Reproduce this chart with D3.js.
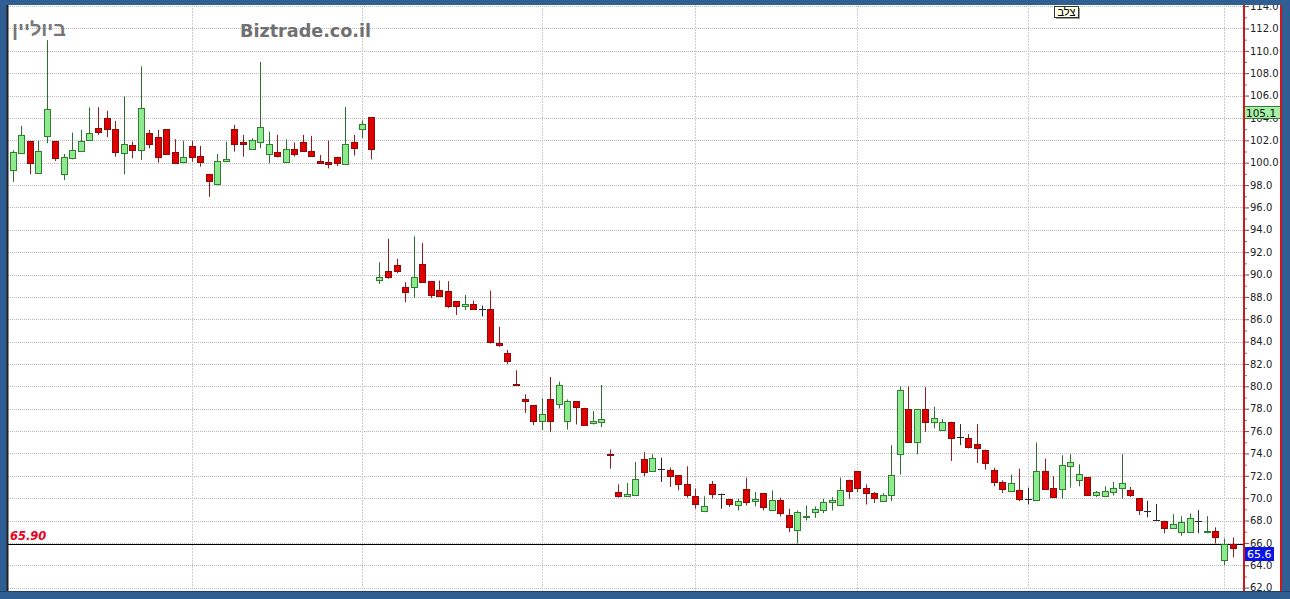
<!DOCTYPE html>
<html><head><meta charset="utf-8">
<script src="https://cdn.jsdelivr.net/npm/d3@7"></script>
<style>html,body{margin:0;padding:0;background:#fff;overflow:hidden}</style>
</head><body>
<svg id="c" width="1290" height="599"></svg>
<script>
// ---- data (o,h,l,c per trading day) ----
const openV = [99.40,100.90,101.95,99.04,102.43,101.95,98.95,100.39,101.05,102.04,103.08,103.98,102.99,100.84,101.59,101.14,102.63,102.28,102.99,100.99,100.00,101.50,100.60,98.95,98.14,100.15,102.99,101.89,101.23,101.80,100.78,100.99,100.09,101.20,101.89,101.08,100.18,100.09,100.54,99.85,101.89,102.99,104.07,
89.52,90.30,90.87,88.92,88.92,90.96,89.40,88.62,88.50,87.60,87.16,87.37,86.92,86.92,83.92,82.96,80.24,78.83,78.32,76.89,78.83,78.38,76.89,78.68,78.08,76.68,76.74,
73.93,70.55,70.16,70.34,73.54,72.44,72.59,72.56,72.08,71.30,70.19,68.84,71.30,70.34,69.95,69.41,70.85,69.74,70.46,68.90,69.80,68.54,67.11,68.40,68.75,68.90,69.65,69.35,71.66,72.41,70.94,70.46,69.71,70.28,
73.93,77.97,74.98,77.97,76.78,76.09,76.84,75.43,75.34,74.83,74.35,72.56,71.45,70.61,70.70,69.95,69.89,72.44,70.94,70.76,72.85,71.60,71.90,70.31,70.19,70.55,70.94,70.70,
69.98,68.87,68.05,67.99,67.29,66.99,66.99,67.99,67.05,67.05,64.46,65.89];
const highV = [101.10,103.29,101.95,101.95,110.96,101.95,100.78,102.69,102.93,104.94,104.97,104.64,103.74,105.93,101.89,108.62,102.93,102.93,102.99,102.10,101.98,101.98,101.50,98.95,100.78,101.89,103.38,102.49,102.19,109.01,102.78,102.49,102.10,101.80,102.49,102.40,100.69,101.98,100.54,104.97,102.49,103.77,104.07,
91.11,93.20,91.41,89.31,93.41,92.81,89.40,89.46,89.40,87.60,88.17,87.66,87.22,88.56,85.33,83.26,81.44,79.28,78.32,78.92,80.84,80.42,78.83,78.68,78.08,77.78,80.12,
74.35,71.24,71.36,73.24,74.14,73.93,73.63,72.73,72.08,72.85,70.85,70.16,71.54,70.40,69.95,69.95,71.84,70.55,70.46,70.70,70.04,69.05,68.90,69.35,69.26,69.95,70.10,71.84,71.66,72.41,71.24,70.55,70.46,74.74,
79.98,79.98,77.97,79.92,78.18,77.08,76.84,76.63,75.73,76.63,74.35,72.73,71.60,72.11,72.64,70.94,74.98,73.54,71.96,73.84,73.93,73.03,71.90,70.64,71.06,71.45,73.93,71.00,
69.98,69.77,69.47,67.99,68.57,68.39,68.63,68.93,68.39,67.39,66.40,66.49];
const lowV = [98.29,100.84,98.95,99.00,101.74,100.15,98.44,100.30,100.99,101.98,102.49,102.28,100.54,98.95,100.39,100.24,101.29,100.00,100.78,100.00,99.94,100.09,99.64,96.95,97.99,100.09,100.99,100.54,101.14,101.29,99.94,100.48,100.00,100.54,100.99,100.54,99.94,99.49,99.70,99.79,100.63,102.19,100.30,
89.16,89.61,90.12,87.51,87.90,89.37,87.90,88.11,87.01,86.38,86.83,86.92,86.26,83.83,83.53,81.98,80.03,77.63,76.53,76.08,75.90,78.02,76.14,76.59,76.59,76.59,76.35,
72.64,70.04,70.10,70.34,71.96,72.44,71.45,71.00,70.70,70.04,69.05,68.75,69.95,69.05,69.20,68.90,69.35,69.26,68.90,68.84,68.36,66.96,65.95,68.00,68.24,68.66,68.90,69.35,69.95,70.55,69.44,69.56,69.65,69.74,
72.11,74.98,73.93,75.94,76.24,76.09,73.33,74.74,74.44,73.15,72.56,71.06,70.46,70.61,69.74,69.44,69.89,70.85,70.04,69.95,70.94,71.06,70.31,70.10,70.10,70.25,69.95,70.10,
68.49,68.29,67.99,66.86,67.29,66.64,66.93,66.86,66.86,65.95,64.01,64.70];
const closeV = [100.99,102.49,100.00,101.05,104.82,100.39,100.48,101.14,101.95,102.63,102.69,102.99,100.90,101.65,101.14,104.88,101.65,100.48,100.78,100.00,100.48,100.54,100.09,98.35,100.18,100.30,101.68,101.74,102.04,103.17,101.65,100.63,101.23,100.75,101.08,100.63,100.03,99.94,100.00,101.65,101.35,103.44,101.20,
89.76,89.76,90.30,88.47,89.82,89.37,88.11,88.11,87.13,87.16,87.37,86.92,86.92,84.01,83.77,82.22,80.12,78.68,76.89,77.49,76.89,80.09,78.68,78.17,76.59,76.89,77.04,
73.81,70.16,70.34,71.75,72.35,73.63,72.59,72.05,71.24,70.31,69.50,69.29,70.40,70.34,69.50,69.74,69.71,69.95,69.20,69.80,68.60,67.47,68.75,68.45,68.99,69.65,69.86,70.70,70.70,70.85,70.46,70.04,70.25,72.08,
79.68,74.98,77.97,76.78,77.14,76.84,75.43,75.43,74.50,74.50,73.15,71.45,70.85,71.36,69.86,69.95,72.44,70.85,70.10,72.94,73.24,72.14,70.31,70.55,70.61,70.94,71.36,70.25,
68.87,68.87,68.05,67.39,67.68,67.89,68.20,67.99,67.10,66.55,65.89,65.56];
const monthStartIdx = [21,41,62,80,99,119,142];
const yTicksMajor = [62,64,66,68,70,72,74,76,78,80,82,84,86,88,90,92,94,96,98,100,102,104,106,108,110,112,114];
const yTicksMinor = [63,65,67,69,71,73,75,77,79,81,83,85,87,89,91,93,95,97,99,101,103,105,107,109,111,113];
const refLine = 65.90;
const tagHigh = 105.1;
const tagLast = 65.6;
const titleHeb = "ביוליין";
const titleSite = "Biztrade.co.il";
const flagLabel = "צלב";

// ---- layout ----
const W = 1290, H = 599;
const L = 8, R = 1243, T = 5, B = 591;
const svg = d3.select("#c");
const days = d3.range(openV.length);
const x = d3.scalePoint().domain(days).range([12.7, 1232.5]);
const y = d3.scaleLinear().domain([61.7, 114.1]).range([B, T]);

svg.append("rect").attr("x",0).attr("y",0).attr("width",W).attr("height",H).attr("fill","#fff");

// grid
const g = svg.append("g");
g.selectAll(".hg").data(yTicksMajor).enter().append("line")
  .attr("x1",L).attr("x2",R).attr("y1",d=>Math.round(y(d))+0.5).attr("y2",d=>Math.round(y(d))+0.5)
  .attr("stroke","#b8b8b8").attr("stroke-dasharray","1,1");
g.selectAll(".vg").data(monthStartIdx).enter().append("line")
  .attr("x1",d=>Math.round(x(d))+0.5).attr("x2",d=>Math.round(x(d))+0.5).attr("y1",T).attr("y2",B)
  .attr("stroke","#cdcdcd").attr("stroke-dasharray","2,1");

// reference line
svg.append("line").attr("x1",L).attr("x2",R).attr("y1",Math.round(y(refLine))+0.5).attr("y2",Math.round(y(refLine))+0.5)
  .attr("stroke","#000").attr("stroke-width",1);
svg.append("text").attr("x",10).attr("y",Math.round(y(refLine))-4).text(refLine.toFixed(2))
  .attr("font-family","DejaVu Sans").attr("font-size","11.5px").attr("font-weight","bold").attr("font-style","italic").attr("fill","#e8001c");

// candles
const cg = svg.append("g");
days.forEach(i=>{
  const o=openV[i], c=closeV[i], h=highV[i], l=lowV[i];
  const cx = Math.round(x(i));
  const up = c>o, doji = Math.abs(c-o)<0.001;
  const wick = doji ? "#2a2a2a" : (up ? "#2f6f2f" : "#8f1f1f");
  cg.append("line").attr("x1",cx+0.5).attr("x2",cx+0.5).attr("y1",y(h)).attr("y2",y(l)).attr("stroke",wick).attr("stroke-width",1);
  if (doji) {
    cg.append("line").attr("x1",cx-3).attr("x2",cx+4).attr("y1",Math.round(y(o))+0.5).attr("y2",Math.round(y(o))+0.5).attr("stroke",wick);
  } else {
    const top = y(Math.max(o,c)), bot = y(Math.min(o,c));
    cg.append("rect").attr("x",cx-2.5).attr("width",6)
      .attr("y",Math.round(top)+0.5).attr("height",Math.max(1,Math.round(bot-top)))
      .attr("fill", up ? "#8eea8e" : "#e10000").attr("stroke", up ? "#2f7f2f" : "#8b0a0a").attr("stroke-width",1);
  }
});

// titles
svg.append("text").attr("x",12).attr("y",36).text(titleHeb)
  .attr("font-family","Liberation Sans, Arial, sans-serif").attr("font-size","19px").attr("font-weight","bold").attr("fill","#777")
  .attr("textLength",54).attr("lengthAdjust","spacingAndGlyphs");
svg.append("text").attr("x",240).attr("y",37).text(titleSite)
  .attr("font-family","DejaVu Sans").attr("font-size","17.6px").attr("font-weight","bold").attr("fill","#707070");

// flag label
const fg = svg.append("g");
fg.append("rect").attr("x",1056).attr("y",8).attr("width",24).attr("height",11).attr("fill","#999");
fg.append("rect").attr("x",1054.5).attr("y",6.5).attr("width",24).attr("height",11).attr("fill","#ffffe6").attr("stroke","#333");
fg.append("text").attr("x",1066.5).attr("y",16).attr("text-anchor","middle").text(flagLabel)
  .attr("font-family","Liberation Sans, Arial, sans-serif").attr("font-size","11px").attr("fill","#000");

// right axis panel
svg.append("rect").attr("x",R).attr("y",0).attr("width",40).attr("height",H).attr("fill","#fff");
const ax = svg.append("g").attr("transform",`translate(${R+1},0)`)
  .call(d3.axisRight(y).tickValues(yTicksMajor).tickFormat(d3.format(".1f")).tickSize(5).tickPadding(1));
ax.select(".domain").remove();
ax.selectAll("line").attr("stroke","#555");
ax.selectAll("text").attr("font-family","DejaVu Sans").attr("font-size","10px").attr("fill","#222");
const axm = svg.append("g").attr("transform",`translate(${R+1},0)`)
  .call(d3.axisRight(y).tickValues(yTicksMinor).tickFormat("").tickSize(3));
axm.select(".domain").remove();
axm.selectAll("line").attr("stroke","#777");

// value tags
svg.append("rect").attr("x",R+0.5).attr("y",Math.round(y(tagHigh))+0.5).attr("width",38).attr("height",12)
  .attr("fill","#a4f0a4").attr("stroke","#3a7a3a");
svg.append("text").attr("x",R+3).attr("y",Math.round(y(tagHigh))+11).text(tagHigh.toFixed(1))
  .attr("font-family","DejaVu Sans").attr("font-size","10.5px").attr("fill","#111");
svg.append("rect").attr("x",R).attr("y",Math.round(y(tagLast))).attr("width",31).attr("height",14)
  .attr("fill","#0a14e6");
svg.append("text").attr("x",R+4).attr("y",Math.round(y(tagLast))+11).text(tagLast.toFixed(1))
  .attr("font-family","DejaVu Sans").attr("font-size","11px").attr("fill","#fff");

// red separators
svg.append("rect").attr("x",R).attr("y",0).attr("width",2).attr("height",H).attr("fill","#d01818");
svg.append("rect").attr("x",1280).attr("y",0).attr("width",2).attr("height",H).attr("fill","#d01818");

// frame
const fc = "#2f5e93";
svg.append("rect").attr("x",0).attr("y",0).attr("width",W).attr("height",T).attr("fill",fc);
svg.append("rect").attr("x",0).attr("y",B).attr("width",W).attr("height",H-B).attr("fill",fc);
svg.append("rect").attr("x",0).attr("y",0).attr("width",L-1).attr("height",H).attr("fill",fc);
svg.append("rect").attr("x",1282).attr("y",0).attr("width",8).attr("height",H).attr("fill",fc);
svg.append("line").attr("x1",L-0.5).attr("x2",L-0.5).attr("y1",T).attr("y2",B).attr("stroke","#222").attr("stroke-width",2);
svg.append("line").attr("x1",0).attr("x2",W).attr("y1",B+0.5).attr("y2",B+0.5).attr("stroke","#1d3f66");
</script>
</body></html>
